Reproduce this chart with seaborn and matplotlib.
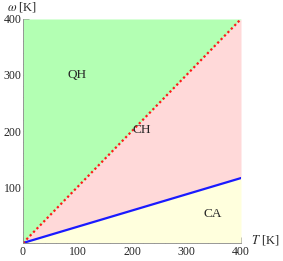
import matplotlib
matplotlib.use("Agg")
import matplotlib.pyplot as plt
import seaborn as sns
import numpy as np
import pandas as pd
from matplotlib.ticker import MultipleLocator

T = [0, 400]
omega_qh = [0, 400]
omega_ca = [0, 116]
xticks = [0, 100, 200, 300, 400]
xticklabels = ["0", "100", "200", "300", "400"]
yticks = [0, 100, 200, 300, 400]
yticklabels = ["", "100", "200", "300", "400"]

sns.set_style("white")
plt.rcParams['font.family'] = ['Liberation Serif', 'DejaVu Serif']
plt.rcParams['mathtext.fontset'] = 'stix'

fig = plt.figure(figsize=(2.83, 2.61), dpi=100)
ax = fig.add_axes([23/283, 18/261, 218/283, 224/261])

green = "#b3ffb3"
pink = "#ffd9d9"
yellow = "#ffffdd"
ax.fill_between(T, omega_qh, [400, 400], color=green, lw=0)
ax.fill_between(T, omega_ca, omega_qh, color=pink, lw=0)
ax.fill_between(T, [0, 0], omega_ca, color=yellow, lw=0)

df = pd.DataFrame({"T": T, "qh": omega_qh, "ca": omega_ca})
sns.lineplot(data=df, x="T", y="ca", ax=ax, color="#1a1aff", lw=1.6)
sns.lineplot(data=df, x="T", y="qh", ax=ax, color="#ff1a1a", lw=1.6, linestyle=(0, (1, 1.2)))

ax.text(100, 300, "QH", ha="center", va="center", fontsize=9.5)
ax.text(217, 201, "CH", ha="center", va="center", fontsize=9.5)
ax.text(348, 52, "CA", ha="center", va="center", fontsize=9.5)

ax.set_xlim(0, 400)
ax.set_ylim(0, 400)
ax.set_xticks(xticks)
ax.set_xticklabels(xticklabels)
ax.set_yticks(yticks)
ax.set_yticklabels(yticklabels)
ax.xaxis.set_minor_locator(MultipleLocator(20))
ax.yaxis.set_minor_locator(MultipleLocator(20))
ax.tick_params(which="major", direction="in", length=4, width=0.6, color="#777777", labelsize=8.5, pad=2)
ax.tick_params(which="minor", direction="in", length=2, width=0.5, color="#777777")
ax.tick_params(axis="y", which="major", pad=1)
ax.tick_params(bottom=True, left=True, which="both")
ax.set_xlabel("")
ax.set_ylabel("")
for s in ["top", "right"]:
    ax.spines[s].set_visible(False)
for s in ["left", "bottom"]:
    ax.spines[s].set_color("#888888")
    ax.spines[s].set_linewidth(0.6)

fig.text(7/283, 1 - 7/261, r"$\omega$ [K]", ha="left", va="center", fontsize=9)
fig.text(251/283, 1 - 240/261, r"$T$ [K]", ha="left", va="center", fontsize=9)

fig.savefig("out.png", dpi=100)
